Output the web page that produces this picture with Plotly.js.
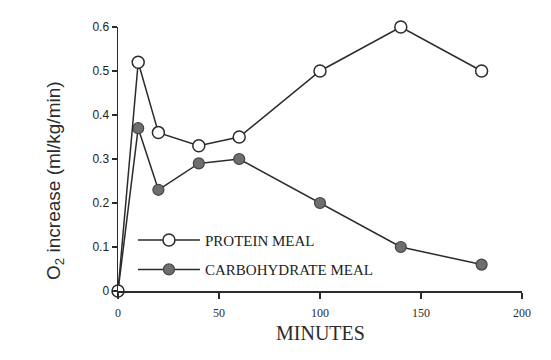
<!DOCTYPE html>
<html>
<head>
<meta charset="utf-8">
<script src="https://cdn.plot.ly/plotly-3.0.1.min.js"></script>
<style>html,body{margin:0;padding:0;background:#fff;}#chart{width:551px;height:360px;}</style>
</head>
<body>
<div id="chart"></div>
<script>
const minutes = [0, 10, 20, 40, 60, 100, 140, 180];
const proteinMeal = [0, 0.52, 0.36, 0.33, 0.35, 0.50, 0.60, 0.50];
const carbohydrateMeal = [0, 0.37, 0.23, 0.29, 0.30, 0.20, 0.10, 0.06];
const xTicks = [0, 50, 100, 150, 200];
const yTicks = [0, 0.1, 0.2, 0.3, 0.4, 0.5, 0.6];
const yTickText = ['0', '0.1', '0.2', '0.3', '0.4', '0.5', '0.6'];

const ink = '#2b2b2b';
const traces = [
  {
    x: minutes, y: carbohydrateMeal, name: 'CARBOHYDRATE MEAL', type: 'scatter', mode: 'lines+markers',
    legendgroup: 'c', legendrank: 2, cliponaxis: false,
    line: {color: ink, width: 1.5},
    marker: {symbol: 'circle', size: 11, color: '#6e6e6e', line: {color: '#444', width: 1.2}}
  },
  {
    x: minutes, y: proteinMeal, name: 'PROTEIN MEAL', type: 'scatter', mode: 'lines+markers',
    legendgroup: 'p', legendrank: 1, cliponaxis: false,
    line: {color: ink, width: 1.5},
    marker: {symbol: 'circle', size: 12, color: '#ffffff', line: {color: ink, width: 1.5}}
  }
];

const layout = {
  width: 551, height: 360,
  margin: {l: 118, r: 29, t: 27, b: 69},
  paper_bgcolor: '#fff', plot_bgcolor: '#fff',
  showlegend: true,
  legend: {
    x: 0.037, y: 0.255, xanchor: 'left', yanchor: 'top',
    bgcolor: 'rgba(0,0,0,0)', traceorder: 'grouped', tracegroupgap: 7,
    itemwidth: 62,
    font: {family: 'Liberation Serif', size: 15, color: '#222'}
  },
  xaxis: {
    range: [0, 200], tickvals: xTicks, ticktext: xTicks.map(String),
    showgrid: false, zeroline: false, showline: true, linecolor: ink, linewidth: 1.5,
    ticks: 'outside', ticklen: 6, tickwidth: 1.2, tickcolor: ink, ticklabelstandoff: 4,
    tickfont: {family: 'Liberation Serif', size: 12, color: ink}
  },
  yaxis: {
    range: [0, 0.6], tickvals: yTicks, ticktext: yTickText,
    showgrid: false, zeroline: false, showline: true, linecolor: ink, linewidth: 1.5,
    ticks: 'outside', ticklen: 5, tickwidth: 1.2, tickcolor: ink,
    tickfont: {family: 'Liberation Sans', size: 12, color: '#222'}
  },
  annotations: [
    {
      text: 'O<sub>2</sub> increase (ml/kg/min)', textangle: -90,
      xref: 'paper', yref: 'paper', x: 0, y: 0.417, xanchor: 'center', yanchor: 'middle',
      xshift: -63, showarrow: false,
      font: {family: 'Liberation Sans', size: 19, color: ink}
    },
    {
      text: 'MINUTES',
      xref: 'paper', yref: 'paper', x: 0.502, y: 0, xanchor: 'center', yanchor: 'middle',
      yshift: -42, showarrow: false,
      font: {family: 'Liberation Serif', size: 20, color: ink}
    }
  ]
};

Plotly.newPlot('chart', traces, layout, {staticPlot: true, displayModeBar: false});
</script>
</body>
</html>
